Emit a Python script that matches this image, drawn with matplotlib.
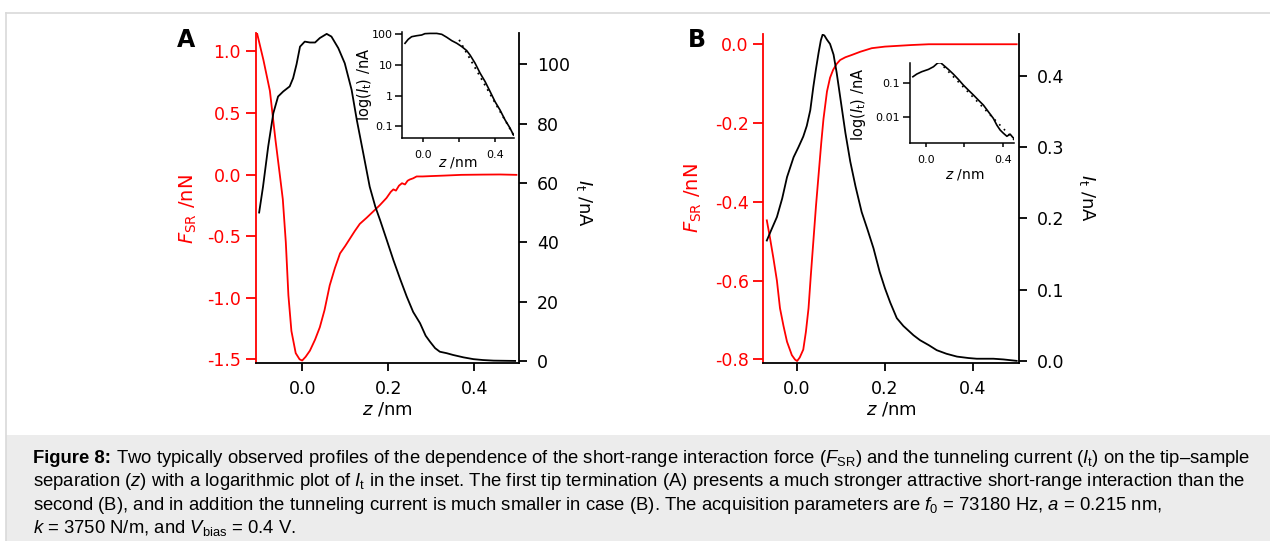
import matplotlib
matplotlib.use('Agg')
import matplotlib.pyplot as plt
from matplotlib.ticker import FixedLocator, NullLocator, FixedFormatter
from matplotlib.patches import Rectangle
from matplotlib.lines import Line2D

plt.rcParams['axes.unicode_minus'] = False
plt.rcParams['font.family'] = 'DejaVu Sans'
plt.rcParams['mathtext.fontset'] = 'dejavusans'
plt.rcParams['mathtext.rm'] = 'Liberation Sans'
plt.rcParams['mathtext.it'] = 'Liberation Sans:italic'
plt.rcParams['mathtext.bf'] = 'Liberation Sans:bold'

# ---------------- data: panel A ----------------
zA_force = [-0.105, -0.09, -0.075, -0.062, -0.052, -0.045, -0.038, -0.032, -0.025, -0.015,
            -0.006, 0.0, 0.008, 0.018, 0.03, 0.041, 0.052, 0.064, 0.076, 0.088, 0.1, 0.111,
            0.122, 0.134, 0.15, 0.165, 0.18, 0.196, 0.206, 0.212, 0.218, 0.225, 0.232, 0.239,
            0.245, 0.25, 0.258, 0.266, 0.28, 0.3, 0.33, 0.37, 0.42, 0.46, 0.498]
FA = [1.15, 0.93, 0.68, 0.28, 0.0, -0.2, -0.55, -0.98, -1.27, -1.45,
      -1.50, -1.51, -1.48, -1.43, -1.34, -1.24, -1.10, -0.90, -0.76, -0.64, -0.58, -0.52,
      -0.46, -0.40, -0.35, -0.30, -0.25, -0.19, -0.14, -0.12, -0.13, -0.09, -0.07, -0.08,
      -0.05, -0.04, -0.03, -0.015, -0.015, -0.012, -0.008, -0.002, 0.0, 0.001, -0.002]

zA_cur = [-0.1, -0.091, -0.079, -0.067, -0.056, -0.044, -0.029, -0.021, -0.013, -0.005,
          0.006, 0.018, 0.03, 0.041, 0.057, 0.068, 0.084, 0.099, 0.115, 0.127, 0.142, 0.157,
          0.17, 0.181, 0.196, 0.212, 0.228, 0.243, 0.258, 0.274, 0.287, 0.297, 0.309, 0.32,
          0.336, 0.351, 0.375, 0.398, 0.42, 0.445, 0.47, 0.495]
IA = [50.0, 58.7, 72.2, 83.5, 89.1, 90.8, 92.5, 95.3, 100.0, 105.9,
      107.6, 107.3, 107.3, 108.8, 110.2, 109.3, 105.4, 100.3, 91.3, 81.2, 70.0, 58.7,
      52.0, 47.5, 41.0, 34.0, 27.5, 21.7, 16.5, 12.7, 8.5, 6.5, 4.3, 3.1,
      2.6, 2.0, 1.2, 0.6, 0.3, 0.1, 0.05, 0.0]

zA_log = [-0.102, -0.084, -0.065, -0.037, -0.009, 0.009, 0.037, 0.075, 0.103, 0.131, 0.159,
          0.187, 0.214, 0.242, 0.261, 0.289, 0.317, 0.345, 0.373, 0.4, 0.428, 0.456, 0.484, 0.503]
IA_log = [50.9, 68.7, 83.6, 90.0, 95.0, 105.0, 107.0, 107.0, 100.0, 80.0, 62.0,
          51.0, 40.0, 29.5, 21.0, 11.4, 5.4, 2.86, 1.35, 0.64, 0.34, 0.162, 0.087, 0.052]
zA_fit = [0.2, 0.505]
IA_fit = [66.0, 0.05]

# ---------------- data: panel B ----------------
zB_force = [-0.069, -0.062, -0.054, -0.046, -0.039, -0.031, -0.023, -0.012, -0.005, 0.0,
            0.006, 0.014, 0.02, 0.026, 0.031, 0.037, 0.043, 0.049, 0.055, 0.06, 0.068, 0.075,
            0.082, 0.09, 0.098, 0.11, 0.125, 0.144, 0.17, 0.2, 0.23, 0.26, 0.3, 0.35, 0.4,
            0.45, 0.5]
FB = [-0.447, -0.49, -0.543, -0.60, -0.67, -0.715, -0.755, -0.789, -0.80, -0.804,
      -0.795, -0.775, -0.73, -0.67, -0.59, -0.50, -0.41, -0.33, -0.25, -0.19, -0.12, -0.085,
      -0.065, -0.05, -0.04, -0.033, -0.027, -0.019, -0.01, -0.006, -0.004, -0.002, 0.0, 0.0, 0.0,
      0.0, 0.0]

zB_cur = [-0.069, -0.058, -0.046, -0.034, -0.023, -0.008, 0.003, 0.014, 0.022, 0.03, 0.037,
          0.043, 0.049, 0.054, 0.058, 0.062, 0.068, 0.075, 0.083, 0.09, 0.098, 0.11, 0.121,
          0.133, 0.147, 0.16, 0.174, 0.188, 0.2, 0.212, 0.227, 0.242, 0.265, 0.28, 0.3, 0.318,
          0.34, 0.364, 0.39, 0.409, 0.43, 0.447, 0.47, 0.5]
IB = [0.169, 0.185, 0.202, 0.228, 0.258, 0.286, 0.300, 0.315, 0.33, 0.352, 0.385,
      0.41, 0.433, 0.45, 0.458, 0.457, 0.451, 0.445, 0.43, 0.405, 0.371, 0.32, 0.28,
      0.245, 0.209, 0.185, 0.158, 0.125, 0.102, 0.082, 0.060, 0.049, 0.036, 0.029, 0.022, 0.015,
      0.01, 0.006, 0.004, 0.003, 0.003, 0.003, 0.002, 0.0]

zB_log = [-0.066, -0.046, -0.02, 0.015, 0.041, 0.061, 0.075, 0.092, 0.118, 0.144, 0.17, 0.196,
          0.222, 0.248, 0.274, 0.3, 0.326, 0.352, 0.37, 0.387, 0.404, 0.422, 0.439, 0.453, 0.465]
IB_log = [0.158, 0.19, 0.224, 0.263, 0.316, 0.40, 0.43, 0.355, 0.263, 0.19, 0.132, 0.089,
          0.063, 0.045, 0.0316, 0.0224, 0.0141, 0.0089, 0.0056, 0.004, 0.0032, 0.0026, 0.003,
          0.0024, 0.0021]
zB_fit = [0.07, 0.465]
IB_fit = [0.44, 0.0019]

# tick labels
A_left_ticks = [-1.5, -1.0, -0.5, 0.0, 0.5, 1.0]
A_right_ticks = [0, 20, 40, 60, 80, 100]
B_left_ticks = [-0.8, -0.6, -0.4, -0.2, 0.0]
B_right_ticks = [0.0, 0.1, 0.2, 0.3, 0.4]
x_ticks = [0.0, 0.2, 0.4]
A_inset_yticks = [0.1, 1, 10, 100]
A_inset_ylabels = ['0.1', '1', '10', '100']
B_inset_yticks = [0.01, 0.1]
B_inset_ylabels = ['0.01', '0.1']
inset_xticks = [0.0, 0.2, 0.4]
inset_xlabels = ['0.0', '', '0.4']

caption_bold = "Figure 8:"
caption_lines = [
    r"Two typically observed profiles of the dependence of the short-range interaction force ($F_{\mathrm{SR}}$) and the tunneling current ($I_{\mathrm{t}}$) on the tip–sample",
    r"separation ($z$) with a logarithmic plot of $I_{\mathrm{t}}$ in the inset. The first tip termination (A) presents a much stronger attractive short-range interaction than the",
    r"second (B), and in addition the tunneling current is much smaller in case (B). The acquisition parameters are $f_0$ = 73180 Hz, $a$ = 0.215 nm,",
    r"$k$ = 3750 N/m, and $V_{\mathrm{bias}}$ = 0.4 V.",
]

# ---------------- figure ----------------
W, H = 1270, 541
fig = plt.figure(figsize=(W / 100, H / 100), dpi=100)
fig.patch.set_facecolor('white')


def rect(l, r, t, b):
    return [l / W, 1 - b / H, (r - l) / W, (b - t) / H]


def ftext(x, y, s, **kw):
    return fig.text(x / W, 1 - y / H, s, **kw)


RED = '#ff0000'
LW = 1.3
TICKFS = 12.5


def fmt1(v):
    return '%.1f' % v


def make_main(rc, xlim, ylim_l, ylim_r, lticks, rticks, lfmt, rfmt):
    ax = fig.add_axes(rc)
    ax.set_xlim(*xlim)
    ax.set_ylim(*ylim_l)
    for s in ['top', 'right']:
        ax.spines[s].set_visible(False)
    ax.spines['left'].set_color(RED)
    ax.spines['left'].set_linewidth(1.3)
    ax.spines['bottom'].set_linewidth(1.3)
    ax.yaxis.set_major_locator(FixedLocator(lticks))
    ax.yaxis.set_major_formatter(FixedFormatter([lfmt(v) for v in lticks]))
    ax.xaxis.set_major_locator(FixedLocator(x_ticks))
    ax.xaxis.set_major_formatter(FixedFormatter([fmt1(v) for v in x_ticks]))
    ax.tick_params(axis='y', colors=RED, direction='out', length=7, width=1.3,
                   labelsize=TICKFS, pad=3.5)
    ax.tick_params(axis='x', direction='out', length=5.5, width=1.3,
                   labelsize=TICKFS, pad=6.5)
    ax2 = ax.twinx()
    ax2.set_ylim(*ylim_r)
    for s in ['top', 'left', 'bottom']:
        ax2.spines[s].set_visible(False)
    ax2.spines['right'].set_linewidth(1.3)
    ax2.yaxis.set_major_locator(FixedLocator(rticks))
    ax2.yaxis.set_major_formatter(FixedFormatter([rfmt(v) for v in rticks]))
    ax2.tick_params(axis='y', direction='out', length=6, width=1.3,
                    labelsize=TICKFS, pad=7)
    return ax, ax2


def make_inset(rc, xlim, ylim, yticks, ylabels):
    ia = fig.add_axes(rc)
    ia.patch.set_alpha(0)
    ia.set_yscale('log')
    ia.set_xlim(*xlim)
    ia.set_ylim(*ylim)
    for s in ['top', 'right']:
        ia.spines[s].set_visible(False)
    ia.spines['left'].set_linewidth(1.1)
    ia.spines['bottom'].set_linewidth(1.1)
    ia.yaxis.set_major_locator(FixedLocator(yticks))
    ia.yaxis.set_major_formatter(FixedFormatter(ylabels))
    ia.yaxis.set_minor_locator(NullLocator())
    ia.xaxis.set_major_locator(FixedLocator(inset_xticks))
    ia.xaxis.set_major_formatter(FixedFormatter(inset_xlabels))
    ia.tick_params(axis='y', direction='out', length=5, width=1.1, labelsize=8, pad=2)
    ia.tick_params(axis='x', direction='out', length=3, width=1.1, labelsize=8, pad=5.5)
    return ia


# Panel A
axA, axA2 = make_main(rect(255.7, 519, 33, 363), (-0.108, 0.504), (-1.53, 1.15), (-0.7, 110.5),
                      A_left_ticks, A_right_ticks, fmt1, lambda v: '%d' % v)
axA.plot(zA_force, FA, color=RED, lw=LW)
axA2.plot(zA_cur, IA, color='black', lw=LW)

insA = make_inset(rect(402.3, 514, 32, 137.7), (-0.117, 0.506), (0.0425, 119),
                  A_inset_yticks, A_inset_ylabels)
insA.plot(zA_log, IA_log, color='black', lw=1.2)
insA.plot(zA_fit, IA_fit, color='black', lw=1.3, ls=(0, (1, 2.5)))

# Panel B
axB, axB2 = make_main(rect(763.3, 1019.3, 34, 363), (-0.077, 0.506), (-0.809, 0.026), (-0.003, 0.459),
                      B_left_ticks, B_right_ticks, fmt1, fmt1)
axB.plot(zB_force, FB, color=RED, lw=LW)
axB2.plot(zB_cur, IB, color='black', lw=LW)

insB = make_inset(rect(910, 1014, 63.3, 143.3), (-0.081, 0.459), (0.0016, 0.4),
                  B_inset_yticks, B_inset_ylabels)
insB.plot(zB_log, IB_log, color='black', lw=1.2)
insB.plot(zB_fit, IB_fit, color='black', lw=1.2, ls=(0, (1, 3)))

# axis labels
ftext(188, 209, r'$F_{\mathrm{SR}}$ /nN', color=RED, fontsize=14, rotation=90, ha='center', va='center')
ftext(584, 203, r'$I_{\mathrm{t}}$ /nA', color='black', fontsize=13, rotation=270, ha='center', va='center')
ftext(387, 410, r'$z$ /nm', fontsize=13, ha='center', va='center')
ftext(693, 198, r'$F_{\mathrm{SR}}$ /nN', color=RED, fontsize=14, rotation=90, ha='center', va='center')
ftext(1087, 198, r'$I_{\mathrm{t}}$ /nA', color='black', fontsize=13, rotation=270, ha='center', va='center')
ftext(891, 410, r'$z$ /nm', fontsize=13, ha='center', va='center')

# inset labels
ftext(364, 84, r'log($I_{\mathrm{t}}$) /nA', fontsize=10.5, rotation=90, ha='center', va='center')
ftext(458, 163, r'$z$ /nm', fontsize=10, ha='center', va='center')
ftext(858, 104, r'log($I_{\mathrm{t}}$) /nA', fontsize=10.5, rotation=90, ha='center', va='center')
ftext(965, 175, r'$z$ /nm', fontsize=10, ha='center', va='center')

# panel letters
ftext(186, 40, 'A', fontsize=17, fontweight='bold', ha='center', va='center')
ftext(697, 40, 'B', fontsize=17, fontweight='bold', ha='center', va='center')

# frame and caption box
fig.add_artist(Line2D([6 / W, 1], [1 - 13 / H, 1 - 13 / H], color='#d9d9d9', lw=1.2))
fig.add_artist(Line2D([6 / W, 6 / W], [0, 1 - 13 / H], color='#d9d9d9', lw=1.2))
fig.add_artist(Rectangle((6 / W, 0), 1 - 6 / W, (H - 435) / H, facecolor='#ececec',
                         edgecolor='none', transform=fig.transFigure, zorder=-1))

CAPFS = 13.3
baselines = [463, 486.5, 510, 533.5]
renderer = fig.canvas.get_renderer()
tb = ftext(33, baselines[0], caption_bold, fontsize=CAPFS, family='Liberation Sans',
           fontweight='bold', va='baseline', ha='left')
x_end = tb.get_window_extent(renderer).x1
ftext(x_end + 5, baselines[0], caption_lines[0], fontsize=CAPFS, family='Liberation Sans',
      va='baseline', ha='left', math_fontfamily='custom')
for i in range(1, 4):
    ftext(33, baselines[i], caption_lines[i], fontsize=CAPFS, family='Liberation Sans',
          va='baseline', ha='left', math_fontfamily='custom')

fig.savefig('out.png', dpi=100)
